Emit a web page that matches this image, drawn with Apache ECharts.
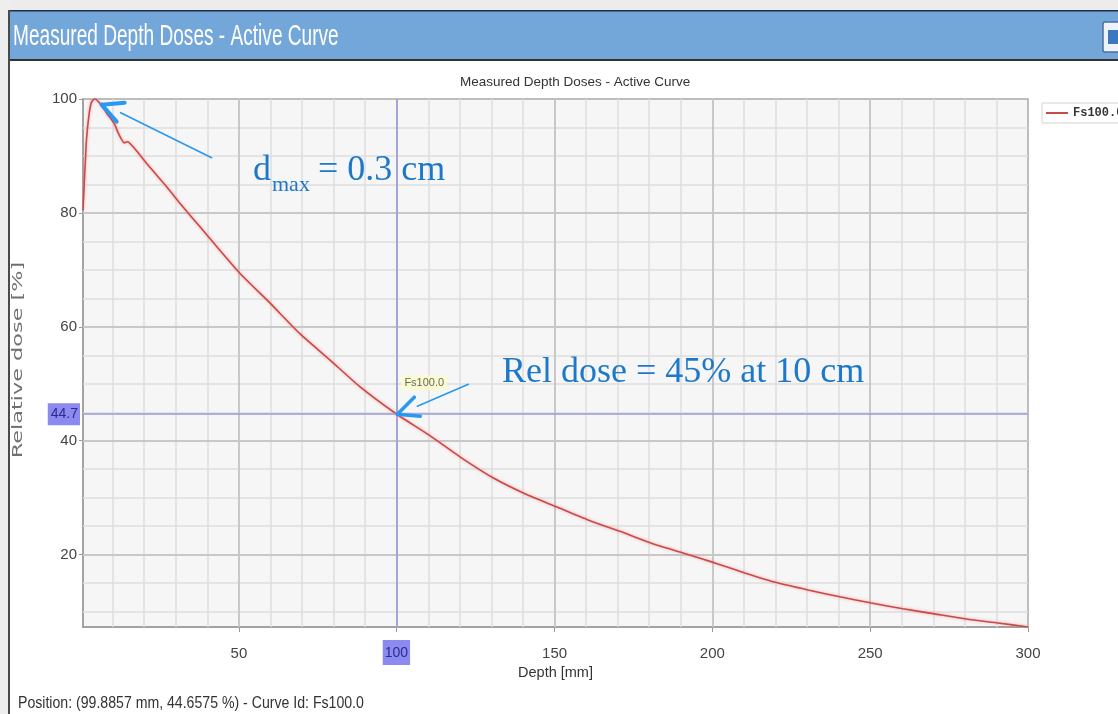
<!DOCTYPE html>
<html><head><meta charset="utf-8">
<script src="https://cdn.jsdelivr.net/npm/echarts@6/dist/echarts.min.js"></script>
<style>html,body{margin:0;padding:0;background:#fff;overflow:hidden}#c{width:1118px;height:714px;}</style>
</head><body><div id="c"></div>
<script>
// ---- data ----
const depthMm = [0.6, 1.2, 1.7, 2.5, 3.3, 4.4, 6.0, 8.1, 10.5, 11.8, 13.7, 14.7, 16.5, 21.8, 27.1, 31.3, 37.6, 40.8, 50.3, 59.8, 69.3, 78.8, 88.3, 99.9, 110.5, 120.5, 130.5, 140.6, 150.6, 160.6, 170.7, 180.7, 190.7, 200.5, 210.3, 220.3, 230.3, 240.4, 250.4, 260.4, 270.4, 280.5, 290.5, 300];
const relDose = [80.5, 87.5, 92.8, 97.2, 99.5, 100, 99.2, 97.5, 95.7, 94.0, 92.3, 92.5, 91.6, 88.0, 84.6, 81.7, 77.6, 75.5, 69.4, 64.2, 58.8, 54.2, 49.5, 44.7, 40.9, 37.0, 33.5, 30.7, 28.4, 26.1, 24.1, 22.0, 20.3, 18.6, 16.8, 15.1, 13.8, 12.6, 11.5, 10.5, 9.6, 8.7, 8.0, 7.3];
const xTickLabels = [50, 100, 150, 200, 250, 300];
const yTickLabels = [20, 40, 60, 80, 100];
const seriesName = 'Fs100.0';
const cursorPos = [99.8857, 44.6575];
const cursorLabels = ['100', '44.7'];
const windowTitle = 'Measured Depth Doses - Active Curve';
const chartTitle = 'Measured Depth Doses - Active Curve';
const statusText = 'Position: (99.8857 mm, 44.6575 %) - Curve Id: Fs100.0';
const dmaxPoint = [6.5, 99.0];
const note1 = ['d', 'max', '= 0.3 cm'];
const note2 = 'Rel dose = 45% at 10 cm';

const SANS = "'Liberation Sans',Arial,sans-serif";
const X_MIN = 0.6, X_MAX = 300, Y_MIN = 7.3, Y_MAX = 100;

// grid lines (minor every 10 mm / 5 %, major every 50 mm / 20 %)
const gridLines = [];
for (let v = 10; v < X_MAX; v += 10) if (v % 50 !== 0) gridLines.push({xAxis: v, lineStyle: {color: '#dedede', width: 1.5, type: 'solid'}});
for (let v = 10; v < Y_MAX; v += 5) if (v % 20 !== 0) gridLines.push({yAxis: v, lineStyle: {color: '#dedede', width: 1.5, type: 'solid'}});
for (let v = 50; v < X_MAX; v += 50) gridLines.push({xAxis: v, lineStyle: {color: '#c8c8c8', width: 2, type: 'solid'}});
for (let v = 20; v < Y_MAX; v += 20) gridLines.push({yAxis: v, lineStyle: {color: '#c8c8c8', width: 2, type: 'solid'}});

const chart = echarts.init(document.getElementById('c'), null, {renderer: 'canvas'});
const cursorLabelStyle = {
  show: true, fontFamily: SANS, fontSize: 14, color: '#2c2c8a',
  backgroundColor: '#8a8af0'
};
chart.setOption({
  animation: false,
  title: {text: chartTitle, left: 455, top: 70,
    textStyle: {fontFamily: SANS, fontSize: 13.5, fontWeight: 'normal', color: '#333'}},
  legend: {data: [seriesName], left: 1042, top: 103, orient: 'vertical',
    backgroundColor: '#fff', borderColor: '#d2d2d2', borderWidth: 1, padding: [4, 4, 4, 4],
    itemWidth: 22, itemHeight: 2, icon: 'rect', itemGap: 4,
    textStyle: {fontFamily: "'Liberation Mono','DejaVu Sans Mono',monospace", fontWeight: 'bold', fontSize: 12, color: '#333'}},
  grid: {left: 83, right: 90, top: 99, bottom: 87, show: true,
    backgroundColor: '#f6f6f6', borderColor: '#a9a9a9', borderWidth: 1.5},
  xAxis: {type: 'value', min: X_MIN, max: X_MAX,
    name: 'Depth [mm]', nameLocation: 'middle', nameGap: 36,
    nameTextStyle: {fontFamily: SANS, fontSize: 14.5, color: '#333'},
    axisLine: {show: true, lineStyle: {color: '#9a9a9a', width: 1.5}},
    axisTick: {show: true, customValues: xTickLabels, length: 5, lineStyle: {color: '#9a9a9a'}},
    axisLabel: {customValues: xTickLabels, margin: 19, fontFamily: SANS, fontSize: 15, color: '#444'},
    splitLine: {show: false}},
  yAxis: {type: 'value', min: Y_MIN, max: Y_MAX,
    axisLine: {show: true, lineStyle: {color: '#9a9a9a', width: 1.5}},
    axisTick: {show: true, customValues: yTickLabels, length: 4, lineStyle: {color: '#9a9a9a'}},
    axisLabel: {customValues: yTickLabels, margin: 6, fontFamily: SANS, fontSize: 15, color: '#444'},
    splitLine: {show: false}},
  series: [
    {type: 'line', name: 'grid', data: [], silent: true, z: 1,
      markLine: {silent: true, z: 1, animation: false, symbol: ['none', 'none'],
        label: {show: false}, emphasis: {disabled: true}, data: gridLines}},
    {type: 'line', name: seriesName, z: 3, showSymbol: false, smooth: 0.2,
      data: depthMm.map((d, i) => [d, relDose[i]]),
      itemStyle: {color: '#c64b4b'},
      lineStyle: {color: '#c64b4b', width: 1.6, shadowColor: 'rgba(255,120,120,0.7)', shadowBlur: 3},
      markLine: {silent: true, z: 4, animation: false, symbol: ['none', 'none'],
        lineStyle: {color: '#9a9ad8', width: 1.5, type: 'solid'}, emphasis: {disabled: true},
        data: [
          {xAxis: cursorPos[0], label: Object.assign({}, cursorLabelStyle, {position: 'start', distance: 13, padding: [6, 2, 5, 2], formatter: cursorLabels[0]})},
          {yAxis: cursorPos[1], label: Object.assign({}, cursorLabelStyle, {position: 'start', distance: 3, padding: [4, 2, 4, 3], formatter: cursorLabels[1]})}
        ]},
      markPoint: {silent: true, symbol: 'circle', symbolSize: 2, itemStyle: {color: 'rgba(0,0,0,0)'},
        label: {show: true, position: [6, -38], formatter: seriesName, fontFamily: SANS, fontSize: 11,
          color: '#6a6a5a', backgroundColor: 'rgba(250,250,205,0.85)', padding: [2, 3]},
        data: [{coord: cursorPos}]}
    }
  ]
});

const T1 = chart.convertToPixel({seriesIndex: 1}, dmaxPoint);
const T2 = chart.convertToPixel({seriesIndex: 1}, [cursorPos[0] + 0.3, cursorPos[1]]);
const ARROW = '#2a98f0';
const NOTE = '#1d78c9';
const seg = (p, a, b, w) => ({type: 'line', z: 100, silent: true,
  shape: {x1: p[0] + a[0], y1: p[1] + a[1], x2: p[0] + b[0], y2: p[1] + b[1]},
  style: {stroke: ARROW, lineWidth: w, lineCap: 'round'}});

chart.setOption({graphic: [
  {type: 'rect', z: 0, silent: true, shape: {x: 0, y: 0, width: 1118, height: 10}, style: {fill: '#ececec'}},
  {type: 'rect', z: 0, silent: true, shape: {x: 0, y: 0, width: 9, height: 714}, style: {fill: '#eeeeee'}},
  {type: 'rect', z: 0, silent: true, shape: {x: 8, y: 10, width: 2, height: 704}, style: {fill: '#4a4a4a'}},
  {type: 'rect', z: 0, silent: true, shape: {x: 10, y: 11, width: 1108, height: 49},
    style: {fill: '#73a6d9'}},
  {type: 'rect', z: 0, silent: true, shape: {x: 10, y: 10, width: 1108, height: 1.5}, style: {fill: '#1f2d4a'}},
  {type: 'rect', z: 0, silent: true, shape: {x: 10, y: 59, width: 1108, height: 2}, style: {fill: '#333'}},
  {type: 'rect', z: 0, silent: true, shape: {x: 1103, y: 22, width: 18, height: 30, r: 2},
    style: {fill: '#eef3fa', stroke: '#4d6f9a', lineWidth: 1.5}},
  {type: 'rect', z: 0, silent: true, shape: {x: 1108, y: 30, width: 12, height: 14},
    style: {fill: '#3a78c0'}},
  {type: 'text', z: 1, silent: true, x: 13, y: 37, scaleX: 0.83, scaleY: 1.3,
    style: {text: windowTitle, fill: '#fff', fontFamily: SANS, fontSize: 23, verticalAlign: 'middle'}},
  {type: 'text', z: 1, silent: true, x: 18, y: 360, rotation: Math.PI / 2, scaleX: 1.6,
    style: {text: 'Relative dose [%]', fill: '#707070', fontFamily: "'DejaVu Sans',sans-serif", fontSize: 14,
      align: 'center', verticalAlign: 'middle'}},
  {type: 'text', z: 1, silent: true, x: 18, y: 703, scaleX: 0.83,
    style: {text: statusText, fill: '#333', fontFamily: SANS, fontSize: 17, verticalAlign: 'middle'}},
  // annotation: dmax
  seg(T1, [0, 0], [23, -2], 4), seg(T1, [0, 0], [15, 17], 4), seg(T1, [19, 8], [110, 53], 1.6),
  {type: 'text', z: 100, silent: true, x: 253, y: 171,
    style: {text: note1[0], fill: NOTE, fontFamily: "'Liberation Serif',serif", fontSize: 36, verticalAlign: 'middle'}},
  {type: 'text', z: 100, silent: true, x: 272, y: 185,
    style: {text: note1[1], fill: NOTE, fontFamily: "'Liberation Serif',serif", fontSize: 22, verticalAlign: 'middle'}},
  {type: 'text', z: 100, silent: true, x: 318, y: 171,
    style: {text: note1[2], fill: NOTE, fontFamily: "'Liberation Serif',serif", fontSize: 36, verticalAlign: 'middle'}},
  // annotation: 10 cm
  seg(T2, [0, 0], [17, -17], 3.5), seg(T2, [0, 0], [23, 2], 3.5), seg(T2, [20, -8], [71, -30], 1.6),
  {type: 'text', z: 100, silent: true, x: 502, y: 373,
    style: {text: note2, fill: NOTE, fontFamily: "'Liberation Serif',serif", fontSize: 36, verticalAlign: 'middle'}}
]});
</script>
</body></html>
